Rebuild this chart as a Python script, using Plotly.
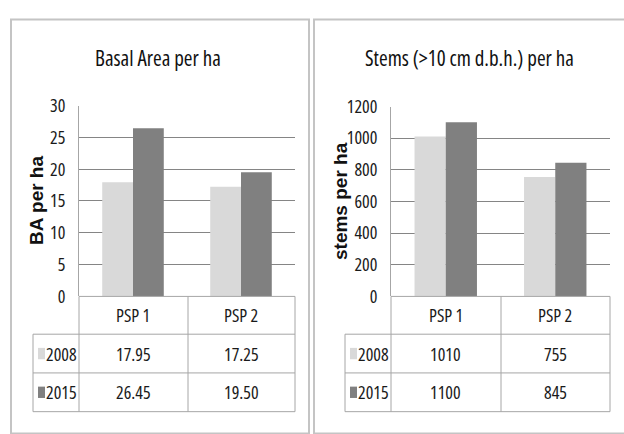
import plotly.graph_objects as go

# ---------------- data ----------------
categories = ["PSP 1", "PSP 2"]
years = ["2008", "2015"]
ba_2008 = [17.95, 17.25]
ba_2015 = [26.45, 19.50]
stems_2008 = [1010, 755]
stems_2015 = [1100, 845]
ba_ticks = [0, 5, 10, 15, 20, 25, 30]
stems_ticks = [0, 200, 400, 600, 800, 1000, 1200]
titles = ["Basal Area per ha", "Stems (>10 cm d.b.h.) per ha"]
ytitles = ["BA per ha", "stems per ha"]

# ---------------- style ----------------
W, H = 624, 434
COLORS = ["#d9d9d9", "#808080"]
FONT = "Open Sans, sans-serif"
GRID = "#858585"
TLINE = "#a6a6a6"
BORDER = "#c4c4c4"
TXT = "#1a1a1a"


def cz(t):
    return "<span style='font-stretch:75%'>" + str(t) + "</span>"


def px(x):
    return x / W


def py(y):
    return 1 - y / H


fig = go.Figure()

panels = [
    dict(xa="x", ya="y", vals=[ba_2008, ba_2015], fmt="{:.2f}",
         left=79, right=295, mid=188, top=98, tleft=33, ylab_x=37, title_x=158,
         border=(11, 309)),
    dict(xa="x2", ya="y2", vals=[stems_2008, stems_2015], fmt="{:.0f}",
         left=391, right=610, mid=501, top=99, tleft=345, ylab_x=341, title_x=469,
         border=(314, 640)),
]

ZERO, R1, R2, R3 = 300, 340, 381, 422

shapes = []
annotations = []
for i, p in enumerate(panels):
    for j, yr in enumerate(years):
        fig.add_trace(go.Bar(
            x=categories, y=p["vals"][j], name=yr, xaxis=p["xa"], yaxis=p["ya"],
            marker=dict(color=COLORS[j], line=dict(width=0)), showlegend=False,
        ))
    # panel border
    shapes.append(dict(type="rect", xref="paper", yref="paper",
                       x0=px(p["border"][0]), x1=px(p["border"][1]),
                       y0=py(7), y1=py(445),
                       line=dict(color=BORDER, width=2), layer="below"))
    # table lines
    L, R, M, TL = p["left"], p["right"], p["mid"], p["tleft"]
    hlines = [(L, R, ZERO), (TL, R, R1), (TL, R, R2), (TL, R, R3)]
    for x0, x1, yy in hlines:
        shapes.append(dict(type="line", xref="paper", yref="paper",
                           x0=px(x0), x1=px(x1), y0=py(yy), y1=py(yy),
                           line=dict(color=TLINE, width=1)))
    vlines = [(L, ZERO, R3), (M, ZERO, R3), (R, ZERO, R3), (TL, R1, R3)]
    for xx, y0, y1 in vlines:
        shapes.append(dict(type="line", xref="paper", yref="paper",
                           x0=px(xx), x1=px(xx), y0=py(y0), y1=py(y1),
                           line=dict(color=TLINE, width=1)))
    # category header text
    for c in categories:
        annotations.append(dict(x=c, xref=p["xa"], y=py((ZERO + R1) / 2), yref="paper",
                                text=cz(c), showarrow=False, xanchor="center", yanchor="middle",
                                font=dict(family=FONT, size=18, color=TXT)))
    # value rows
    rows = [(ZERO + R1) / 2, (R1 + R2) / 2, (R2 + R3) / 2]
    for j, yr in enumerate(years):
        yc = rows[j + 1]
        shapes.append(dict(type="rect", xref="paper", yref="paper",
                           x0=px(TL + 5), x1=px(TL + 12), y0=py(yc - 6), y1=py(yc + 6),
                           fillcolor=COLORS[j], line=dict(width=0)))
        annotations.append(dict(x=px(TL + 11), xref="paper", y=py(yc), yref="paper",
                                text=cz(yr), showarrow=False, xanchor="left", yanchor="middle",
                                font=dict(family=FONT, size=18, color=TXT)))
        for c, v in zip(categories, p["vals"][j]):
            annotations.append(dict(x=c, xref=p["xa"], y=py(yc), yref="paper",
                                    text=cz(p["fmt"].format(v)), showarrow=False,
                                    xanchor="center", yanchor="middle",
                                    font=dict(family=FONT, size=18, color=TXT)))
    # titles
    annotations.append(dict(x=px(p["title_x"]), xref="paper", y=py(48), yref="paper",
                            text=cz(titles[i]), showarrow=False, xanchor="center", yanchor="middle",
                            font=dict(family=FONT, size=21, color="#111111")))
    annotations.append(dict(x=px(p["ylab_x"]), xref="paper", y=py(199), yref="paper",
                            text="<b>" + ytitles[i] + "</b>", showarrow=False, textangle=-90,
                            xanchor="center", yanchor="middle",
                            font=dict(family="Liberation Sans, sans-serif", size=19, color="#111111")))

axis_y_common = dict(showgrid=True, gridcolor=GRID, gridwidth=1, zeroline=False,
                     showline=True, linecolor=TLINE, linewidth=1, ticks="",
                     tickfont=dict(family=FONT, size=18, color=TXT), ticklabelstandoff=9)
axis_x_common = dict(showticklabels=False, showgrid=False, zeroline=False, showline=False,
                     ticks="", type="category", range=[-0.5, 1.5])

fig.update_layout(
    width=W, height=H, margin=dict(l=0, r=0, t=0, b=0),
    paper_bgcolor="white", plot_bgcolor="white",
    barmode="group", bargap=0.43, bargroupgap=0,
    xaxis=dict(domain=[px(79), px(295)], anchor="y", **axis_x_common),
    yaxis=dict(domain=[py(ZERO), py(98)], anchor="x", range=[0, 30], tickvals=ba_ticks,
               ticktext=[cz(t) for t in ba_ticks], **axis_y_common),
    xaxis2=dict(domain=[px(391), px(610)], anchor="y2", **axis_x_common),
    yaxis2=dict(domain=[py(ZERO), py(99)], anchor="x2", range=[0, 1200], tickvals=stems_ticks,
                ticktext=[cz(t) for t in stems_ticks], **axis_y_common),
    shapes=shapes, annotations=annotations, showlegend=False,
)

fig.write_html("out.html", post_script="document.body.style.margin='0';",
               config={"displayModeBar": False})
